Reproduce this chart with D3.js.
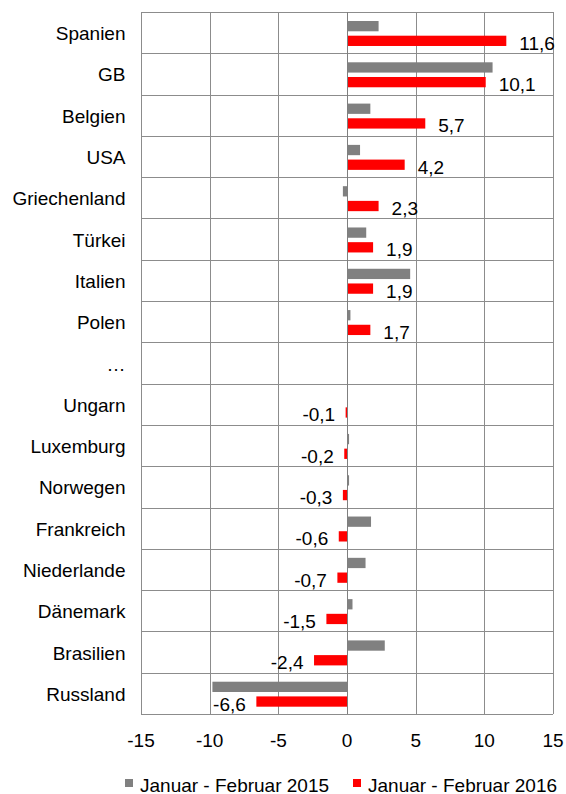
<!DOCTYPE html>
<html>
<head>
<meta charset="utf-8">
<script src="https://cdn.jsdelivr.net/npm/d3@7"></script>
<style>
  html, body { margin: 0; padding: 0; background: #fff; }
  svg { display: block; font-family: "Liberation Sans", Arial, sans-serif; }
  .lbl { font-size: 19px; fill: #000; }
</style>
</head>
<body>
<div id="chart"></div>
<script>
const categories = ['Spanien', 'GB', 'Belgien', 'USA', 'Griechenland', 'Türkei', 'Italien', 'Polen', '…',
  'Ungarn', 'Luxemburg', 'Norwegen', 'Frankreich', 'Niederlande', 'Dänemark', 'Brasilien', 'Russland'];
const values2015 = [2.3, 10.6, 1.7, 0.95, -0.3, 1.4, 4.6, 0.25, null, 0, 0.15, 0.15, 1.75, 1.35, 0.4, 2.75, -9.8];
const values2016 = [11.6, 10.1, 5.7, 4.2, 2.3, 1.9, 1.9, 1.7, null, -0.1, -0.2, -0.3, -0.6, -0.7, -1.5, -2.4, -6.6];
const seriesNames = ['Januar - Februar 2015', 'Januar - Februar 2016'];
const xTicks = [-15, -10, -5, 0, 5, 10, 15];

const W = 566, H = 794;
const M = { top: 12, right: 13, bottom: 80, left: 141 };
const innerW = W - M.left - M.right;
const innerH = H - M.top - M.bottom;
const colors = ['#808080', '#ff0000'];

const svg = d3.select('#chart').append('svg')
  .attr('width', W).attr('height', H);

const g = svg.append('g').attr('transform', `translate(${M.left},${M.top})`);

const x = d3.scaleLinear().domain([-15, 15]).range([0, innerW]);
const y = d3.scaleBand().domain(categories).range([0, innerH]).paddingInner(0).paddingOuter(0);
const bw = y.bandwidth();
const ySub = d3.scaleBand().domain([0, 1]).range([bw * 0.218, bw * 0.823]).paddingInner(0.3).paddingOuter(0);

// grid
const crisp = v => Math.round(v) + 0.5;
g.selectAll('.vgrid').data(xTicks).enter().append('line')
  .attr('x1', d => crisp(x(d))).attr('x2', d => crisp(x(d)))
  .attr('y1', 0).attr('y2', innerH)
  .attr('stroke', '#8c8c8c').attr('stroke-width', 1);
const rowEdges = categories.map(c => y(c)).concat([innerH]);
g.selectAll('.hgrid').data(rowEdges).enter().append('line')
  .attr('x1', 0).attr('x2', innerW)
  .attr('y1', d => crisp(d)).attr('y2', d => crisp(d))
  .attr('stroke', '#8c8c8c').attr('stroke-width', 1);

// bars
const series = [values2015, values2016];
series.forEach((vals, si) => {
  const data = categories.map((c, i) => ({ c, v: vals[i] })).filter(d => d.v !== null && d.v !== 0);
  g.selectAll('.bar' + si).data(data).enter().append('rect')
    .attr('x', d => x(Math.min(0, d.v)))
    .attr('width', d => Math.abs(x(d.v) - x(0)))
    .attr('y', d => y(d.c) + ySub(si))
    .attr('height', ySub.bandwidth())
    .attr('fill', colors[si]);
});

// zero line on top
g.append('line')
  .attr('x1', crisp(x(0))).attr('x2', crisp(x(0)))
  .attr('y1', 0).attr('y2', innerH)
  .attr('stroke', '#7f7f7f').attr('stroke-width', 1);

// value labels for 2016
const fmt = v => String(v).replace('.', ',');
const lblData = categories.map((c, i) => ({ c, v: values2016[i] })).filter(d => d.v !== null);
g.selectAll('.vlbl').data(lblData).enter().append('text')
  .attr('class', 'lbl')
  .attr('x', d => d.v >= 0 ? x(d.v) + 13 : x(d.v) - 10.5)
  .attr('y', d => y(d.c) + ySub(1) + ySub.bandwidth() / 2 + 9)
  .attr('text-anchor', d => d.v >= 0 ? 'start' : 'end')
  .text(d => fmt(d.v));

// category labels
g.selectAll('.clbl').data(categories).enter().append('text')
  .attr('class', 'lbl')
  .attr('x', -15.5)
  .attr('y', d => y(d) + bw / 2 + 7.5)
  .attr('text-anchor', 'end')
  .text(d => d);

// x tick labels
g.selectAll('.xlbl').data(xTicks).enter().append('text')
  .attr('class', 'lbl')
  .attr('x', d => x(d))
  .attr('y', innerH + 32.5)
  .attr('text-anchor', 'middle')
  .text(d => d);

// legend
const legendX = [125, 353];
const leg = svg.selectAll('.leg').data(seriesNames).enter().append('g')
  .attr('transform', (d, i) => `translate(${legendX[i]},779)`);
leg.append('rect').attr('width', 8).attr('height', 8).attr('fill', (d, i) => colors[i]);
leg.append('text').attr('class', 'lbl')
  .attr('x', 15).attr('y', 12.5)
  .text(d => d);
</script>
</body>
</html>
